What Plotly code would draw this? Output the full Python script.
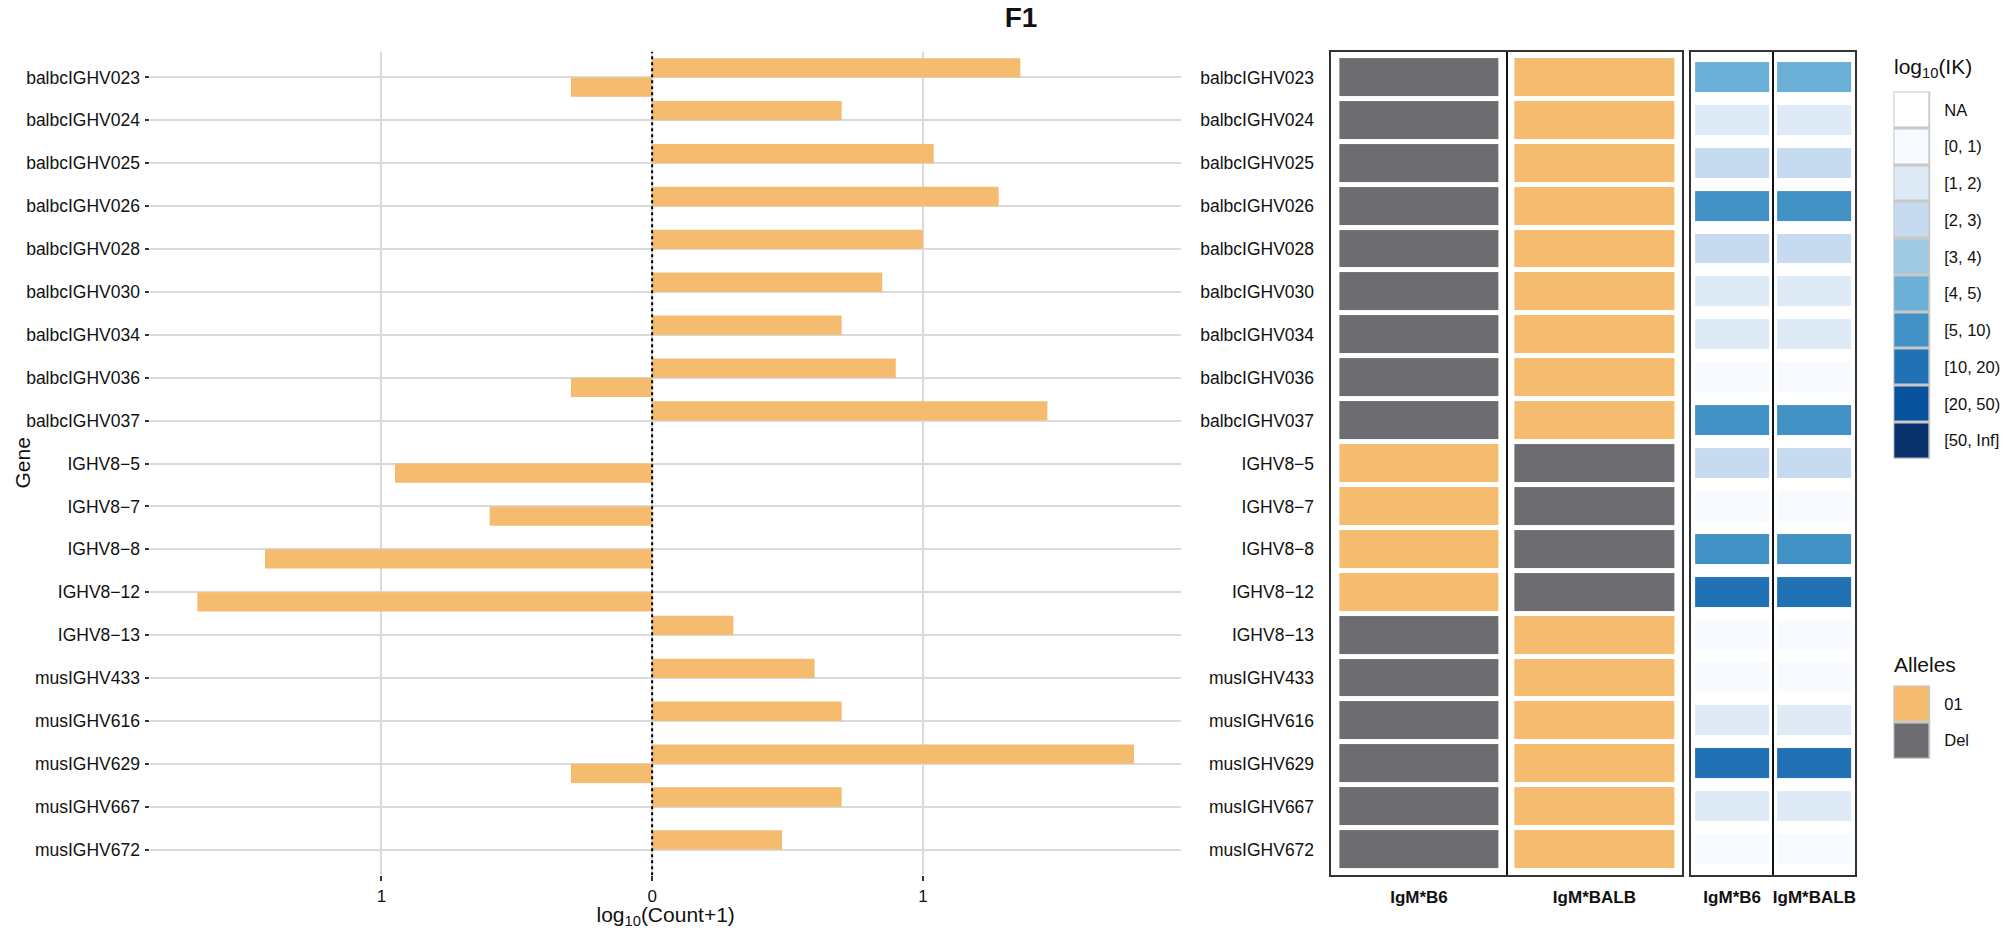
import plotly.graph_objects as go

# the page body keeps its default 8px margin, so the figure is made that much
# smaller and every layout position below is given in page pixels
W, H = 2008, 937
BODY = 8
FIG_W, FIG_H = W - 2 * BODY, H - 2 * BODY

genes = [
    "balbcIGHV023", "balbcIGHV024", "balbcIGHV025", "balbcIGHV026",
    "balbcIGHV028", "balbcIGHV030", "balbcIGHV034", "balbcIGHV036",
    "balbcIGHV037", "IGHV8\u22125", "IGHV8\u22127", "IGHV8\u22128",
    "IGHV8\u221212", "IGHV8\u221213", "musIGHV433", "musIGHV616",
    "musIGHV629", "musIGHV667", "musIGHV672",
]

# log10(Count+1): BALB counts drawn to the right, B6 counts to the left
count_balb = [1.36, 0.70, 1.04, 1.28, 1.00, 0.85, 0.70, 0.90, 1.46,
              None, None, None, None, 0.30, 0.60, 0.70, 1.78, 0.70, 0.48]
count_b6 = [-0.30, None, None, None, None, None, None, -0.30, None,
            -0.95, -0.60, -1.43, -1.68, None, None, None, -0.30, None, None]

x_tick_vals = [-1, 0, 1]
x_tick_text = ["1", "0", "1"]

columns = ["IgM*B6", "IgM*BALB"]
allele_b6 = ["Del"] * 9 + ["01"] * 4 + ["Del"] * 6
allele_balb = ["01"] * 9 + ["Del"] * 4 + ["01"] * 6

ik_b6 = ["[4, 5)", "[1, 2)", "[2, 3)", "[5, 10)", "[2, 3)", "[1, 2)", "[1, 2)",
         "[0, 1)", "[5, 10)", "[2, 3)", "[0, 1)", "[5, 10)", "[10, 20)",
         "[0, 1)", "[0, 1)", "[1, 2)", "[10, 20)", "[1, 2)", "[0, 1)"]
ik_balb = list(ik_b6)

allele_levels = ["01", "Del"]
allele_colors = ["#F5BB6F", "#6D6D71"]
ik_levels = ["NA", "[0, 1)", "[1, 2)", "[2, 3)", "[3, 4)", "[4, 5)",
             "[5, 10)", "[10, 20)", "[20, 50)", "[50, Inf]"]
ik_colors = ["#FFFFFF", "#F7FBFF", "#DEEBF7", "#C6DBEF", "#9ECAE1", "#6BAED6",
             "#4292C6", "#2171B5", "#08519C", "#08306B"]

FONT = "Liberation Sans, Arial, Helvetica, sans-serif"
BAR_COLOR = "#F5BB6F"
GRID = "#DADADA"
INK = "#111111"


def px_x(v):
    return (v - BODY) / FIG_W


def px_y(v):
    return 1 - (v - BODY) / FIG_H


def step_scale(colors):
    # discrete colorscale for integer codes 0..n-1
    n = len(colors)
    scale = []
    for i, c in enumerate(colors):
        scale.append([i / n, c])
        scale.append([(i + 1) / n, c])
    return scale


def codes(values, levels):
    return [levels.index(v) for v in values]


fig = go.Figure()

# ---- left: diverging bars ----
fig.add_trace(go.Bar(
    y=genes, x=count_balb, orientation="h", marker=dict(color=BAR_COLOR, line=dict(width=0)),
    offset=-0.45, width=0.45, xaxis="x", yaxis="y", hoverinfo="x+y",
))
fig.add_trace(go.Bar(
    y=genes, x=count_b6, orientation="h", marker=dict(color=BAR_COLOR, line=dict(width=0)),
    offset=0.0, width=0.45, xaxis="x", yaxis="y", hoverinfo="x+y",
))

vals = [v for v in count_balb + count_b6 if v is not None]
lo, hi = min(vals), max(vals)
pad = 0.05 * (hi - lo)

# ---- middle: allele tiles ----
allele_z = [[a, b] for a, b in zip(codes(allele_b6, allele_levels), codes(allele_balb, allele_levels))]
fig.add_trace(go.Heatmap(
    x=columns, y=genes, z=allele_z, zmin=-0.5, zmax=len(allele_levels) - 0.5,
    colorscale=step_scale(allele_colors), showscale=False, xgap=16, ygap=5,
    xaxis="x2", yaxis="y2",
))

# ---- right: IK tiles ----
ik_z = [[a, b] for a, b in zip(codes(ik_b6, ik_levels), codes(ik_balb, ik_levels))]
fig.add_trace(go.Heatmap(
    x=columns, y=genes, z=ik_z, zmin=-0.5, zmax=len(ik_levels) - 0.5,
    colorscale=step_scale(ik_colors), showscale=False, xgap=8, ygap=13,
    xaxis="x3", yaxis="y3",
))

# ---- legends drawn as one-column tiles ----
fig.add_trace(go.Heatmap(
    x=["key"], y=ik_levels, z=[[i] for i in range(len(ik_levels))],
    zmin=-0.5, zmax=len(ik_levels) - 0.5, colorscale=step_scale(ik_colors),
    showscale=False, xgap=3, ygap=3, xaxis="x4", yaxis="y4", hoverinfo="skip",
))
fig.add_trace(go.Heatmap(
    x=["key"], y=allele_levels, z=[[i] for i in range(len(allele_levels))],
    zmin=-0.5, zmax=len(allele_levels) - 0.5, colorscale=step_scale(allele_colors),
    showscale=False, xgap=3, ygap=3, xaxis="x5", yaxis="y5", hoverinfo="skip",
))

panel_y = [px_y(881), px_y(52)]
gene_range = [len(genes) - 0.4, -0.6]
gene_font = dict(family=FONT, size=17.5, color=INK)
tick_font = dict(family=FONT, size=17, color=INK)
legend_font = dict(family=FONT, size=16.5, color=INK)
box_line = dict(showline=True, mirror=True, linecolor="#333333", linewidth=1.5)
col_text = ["<b>%s</b>" % c for c in columns]

fig.update_layout(
    width=FIG_W, height=FIG_H,
    margin=dict(l=0, r=0, t=0, b=0),
    paper_bgcolor="white", plot_bgcolor="white",
    showlegend=False,
    font=dict(family=FONT, size=17, color=INK),
    title=dict(text="<b>F1</b>", x=px_x(1021), xanchor="center", y=px_y(17),
               yanchor="middle", font=dict(family=FONT, size=28, color=INK)),
    xaxis=dict(
        domain=[px_x(151), px_x(1185)], anchor="y", range=[lo - pad, hi + pad],
        tickvals=x_tick_vals, ticktext=x_tick_text, showgrid=True, gridcolor=GRID,
        gridwidth=2, zeroline=False, ticks="outside", ticklen=5, tickwidth=1.5,
        tickcolor="#333333", tickfont=tick_font,
        title=dict(text="log<sub>10</sub>(Count+1)", standoff=9,
                   font=dict(family=FONT, size=21, color=INK)),
    ),
    yaxis=dict(
        domain=panel_y, anchor="x", type="category", categoryorder="array",
        categoryarray=genes, range=gene_range, showgrid=True, gridcolor=GRID,
        gridwidth=2, zeroline=False, ticks="outside", ticklen=4, tickwidth=1.5,
        tickcolor="#333333", tickfont=gene_font, ticklabelstandoff=2,
    ),
    xaxis2=dict(
        domain=[px_x(1336), px_x(1688)], anchor="y2", type="category",
        range=[-0.5, 1.5], tickson="boundaries", showgrid=True, gridcolor=INK,
        gridwidth=2, ticks="", tickfont=tick_font, ticklabelstandoff=6, tickangle=0,
        tickvals=columns, ticktext=col_text, **box_line,
    ),
    yaxis2=dict(
        domain=panel_y, anchor="x2", type="category", categoryorder="array",
        categoryarray=genes, range=gene_range, showgrid=False, zeroline=False,
        ticks="", tickfont=gene_font, ticklabelstandoff=12, **box_line,
    ),
    xaxis3=dict(
        domain=[px_x(1697), px_x(1862)], anchor="y3", type="category",
        range=[-0.5, 1.5], tickson="boundaries", showgrid=True, gridcolor=INK,
        gridwidth=2, ticks="", tickfont=tick_font, ticklabelstandoff=6, tickangle=0,
        tickvals=columns, ticktext=col_text, **box_line,
    ),
    yaxis3=dict(
        domain=panel_y, anchor="x3", type="category", categoryorder="array",
        categoryarray=genes, range=gene_range, showgrid=False, zeroline=False,
        showticklabels=False, ticks="", **box_line,
    ),
    xaxis4=dict(domain=[px_x(1900), px_x(1937)], anchor="y4", visible=False),
    yaxis4=dict(
        domain=[px_y(462), px_y(92)], anchor="x4", side="right", type="category",
        categoryorder="array", categoryarray=ik_levels,
        range=[len(ik_levels) - 0.5, -0.5], showgrid=False, zeroline=False,
        ticks="", showline=False, tickfont=legend_font, ticklabelstandoff=13,
    ),
    xaxis5=dict(domain=[px_x(1900), px_x(1937)], anchor="y5", visible=False),
    yaxis5=dict(
        domain=[px_y(764), px_y(690)], anchor="x5", side="right", type="category",
        categoryorder="array", categoryarray=allele_levels,
        range=[len(allele_levels) - 0.5, -0.5], showgrid=False, zeroline=False,
        ticks="", showline=False, tickfont=legend_font, ticklabelstandoff=13,
    ),
)

# dotted zero line on the bar panel
fig.add_shape(type="line", xref="x", yref="y domain", x0=0, x1=0, y0=0, y1=1,
              line=dict(color="black", width=2, dash="dot"))

# grey frames behind the legend keys
for ax in ["4", "5"]:
    fig.add_shape(type="rect", xref="x%s domain" % ax, yref="y%s domain" % ax,
                  x0=0, x1=1, y0=0, y1=1, fillcolor="#C8C8C8",
                  line=dict(width=0), layer="below")

fig.add_annotation(text="Gene", xref="paper", yref="paper", x=px_x(9), y=px_y(466),
                   xanchor="left", yanchor="middle", textangle=-90, showarrow=False,
                   font=dict(family=FONT, size=21, color=INK))
fig.add_annotation(text="log<sub>10</sub>(IK)", xref="paper", yref="paper",
                   x=px_x(1899), y=px_y(68), xanchor="left", yanchor="middle",
                   showarrow=False, font=dict(family=FONT, size=21, color=INK))
fig.add_annotation(text="Alleles", xref="paper", yref="paper",
                   x=px_x(1899), y=px_y(669), xanchor="left", yanchor="middle",
                   showarrow=False, font=dict(family=FONT, size=21, color=INK))

fig.write_html("out.html")
